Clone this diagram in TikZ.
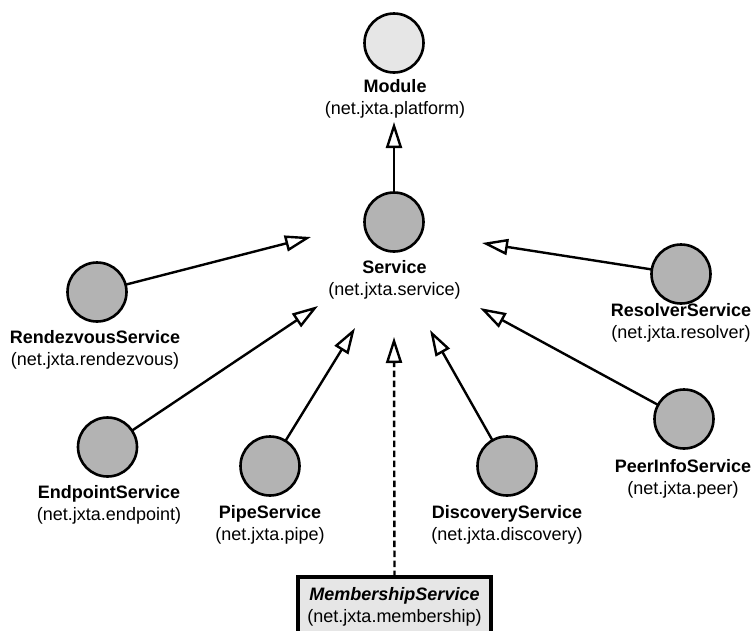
\documentclass[tikz,border=0pt]{standalone}
\usepackage{fontspec}
\setmainfont{Liberation Sans}
\usetikzlibrary{arrows.meta}

\begin{document}
\begin{tikzpicture}[x=1pt,y=-1pt,
  every node/.style={inner sep=0pt, outer sep=0pt},
  txt/.style={font=\fontsize{18}{22}\selectfont, align=center, anchor=north},
  pkg/.style={circle, draw=black, line width=2.6pt, fill=pkggray, minimum size=59pt},
  base/.style={pkg, fill=basegray},
  inherit/.style={line width=2.4pt, -{Triangle[open, length=26pt, width=16pt]}},
  iface/.style={inherit, dash pattern=on 6.5pt off 3.5pt},
  ifacebox/.style={draw=black, line width=3.2pt, fill=basegray, minimum width=193pt,
    inner ysep=10pt, font=\fontsize{18}{22}\selectfont, align=center, anchor=north}
]
\definecolor{pkggray}{HTML}{B3B3B3}
\definecolor{basegray}{HTML}{E6E6E6}

\clip (0,0) rectangle (755,630);
\fill[white] (0,0) rectangle (755,630);

% package circles
\node[base] (module)     at (394,43)  {};
\node[pkg]  (service)    at (394,222) {};
\node[pkg]  (rendezvous) at (97,292)  {};
\node[pkg]  (resolver)   at (681,274) {};
\node[pkg]  (endpoint)   at (107.5,447) {};
\node[pkg]  (pipe)       at (270,466) {};
\node[pkg]  (discovery)  at (507,466) {};
\node[pkg]  (peerinfo)   at (684,419) {};

% labels (top = first baseline - 13)
\node[txt] (module-l)     at (395,79)  {\textbf{Module}\\(net.jxta.platform)};
\node[txt] (service-l)    at (394.5,260) {\textbf{Service}\\(net.jxta.service)};
\node[txt] (rendezvous-l) at (95,330)  {\textbf{RendezvousService}\\(net.jxta.rendezvous)};
\node[txt] (resolver-l)   at (681,303) {\textbf{ResolverService}\\(net.jxta.resolver)};
\node[txt] (endpoint-l)   at (109,485) {\textbf{EndpointService}\\(net.jxta.endpoint)};
\node[txt] (pipe-l)       at (270,505) {\textbf{PipeService}\\(net.jxta.pipe)};
\node[txt] (discovery-l)  at (507,505) {\textbf{DiscoveryService}\\(net.jxta.discovery)};
\node[txt] (peerinfo-l)   at (683,459) {\textbf{PeerInfoService}\\(net.jxta.peer)};

% interface box
\node[ifacebox] (membership) at (394.5,577)
  {\textbf{\textit{MembershipService}}\\(net.jxta.membership)};

% arrow tips near the base packages
\coordinate (t-module)     at (394,122);
\coordinate (t-rendezvous) at (311,237);
\coordinate (t-endpoint)   at (318,306);
\coordinate (t-pipe)       at (355,328);
\coordinate (t-membership) at (394,337);
\coordinate (t-discovery)  at (430,330);
\coordinate (t-peerinfo)   at (480,308);
\coordinate (t-resolver)   at (482,243);

% inheritance connectors
\draw[inherit] (service)    -- (t-module);
\draw[inherit] (rendezvous) -- (t-rendezvous);
\draw[inherit] (endpoint)   -- (t-endpoint);
\draw[inherit] (pipe)       -- (t-pipe);
\draw[inherit] (discovery)  -- (t-discovery);
\draw[inherit] (peerinfo)   -- (t-peerinfo);
\draw[inherit] (resolver)   -- (t-resolver);
\draw[iface]   (membership.north) -- (t-membership);
\end{tikzpicture}
\end{document}
